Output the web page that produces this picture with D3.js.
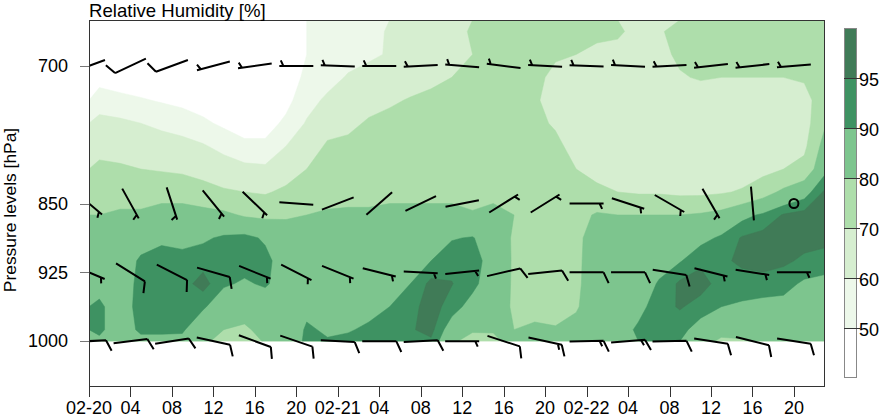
<!DOCTYPE html>
<html><head><meta charset="utf-8">
<script src="https://cdn.jsdelivr.net/npm/d3@7"></script>
<style>body{margin:0;background:#fff} svg{display:block} text{font-family:"Liberation Sans",Arial,Helvetica,sans-serif;fill:#000}</style>
</head><body><svg id="c" width="880" height="418"></svg>
<script>
// ---------- data ----------
const gridHours = [0,2,4,6,8,10,12,14,16,18,20,22,24,26,28,30,32,34,36,38,40,42,44,46,48,50,52,54,56,58,60,62,64,66,68,70,72];
const pressureLevels = [650,675,700,725,750,775,800,825,850,875,900,925,950,975,1000];
const rh650  = [42,42,42,42,42,42,42,42,42,47,50,53,55,57,61,63,64,67,71,72,72,72,72,71,71,71,68,69,73,74,74,74,74,75,75,76,77];
const rh675  = [42,42,42,42,42,42,42,42,42,46,50,53,56,58,61,64,66,68,70,72,73,73,71,70,69,68,66,67,72,73,73,73,73,74,74,76,77];
const rh700  = [46,44,43,42,42,42,42,42,42,45,52,56,61,64,66,67,68,70,71,74,74,72,68,67,65,65,64,64,69,71,70,70,70,70,71,75,77];
const rh725  = [55,53,51,49,47,45,44,43,43,47,56,62,64,67,69,70.5,72,73,73,75,75,71,67,65,63,62,62,62,64,64,65,65,65,65,67,75,77];
const rh750  = [63,62,60,58,56,52,48,46,46,52,61,67,68,71,72,73,74,75,75,76,76,72,69,65,63,62,62,62,62,62,63,63,63,63,66,79,79];
const rh775  = [67,67,65,64,63,61,57,52,52,60,66,71,72,74,75,75,76,76,76,77,76,73,72,67,64,63,63,62,61,61,62,62,63,64,68,84,84];
const rh800  = [72,71,70,69,68,66,65,63,62,65,70,74,75,76,77,77,77,77,77,78,77,74,74,70,67,66,65,64,63,63,64,65,67,70,73,88,89];
const rh825  = [77,77,77,78,77,74,71,70,69,72,75,77,78,78,79,79,79,79,78,79,78,75,75,74,72,70,69,69,68,68,69,71,76,82,87,96,96.5];
const rh850  = [80,81,81,82,83,83,82,79,78,79,80,81,81,81,81,81,81,81,80.5,81,80,76,75,77,81,80,80,80,80,81,83,88,91,95.5,97,97,97];
const rh875  = [84,85,87,89,88,89,91,92,89,84,84,84,84,84,84,84,85,89.5,90.5,85,79,75,74,78,84,84,84,85,86,88,91,95.5,97,97,97,96.5,96.5];
const rh900  = [86,86,91,92,92,93,93,93,92,86,85,85,85,85,86,86,90,93.5,93.5,86,79,75,74,78,85,85,86,88,89.5,94,94,96,97,96,94,93,93];
const rh925  = [88,86,92,92,93,97,91,89,91,86,86,85,86,86,88,90,96.5,95.2,92,85,79,75,74,78,86,86,87,90.5,96,97,93,93,93,92,89,88,88];
const rh950  = [91,87,92,92,92,91,85,83,85,85,88,87,88,88,90,93.5,97,93,87,84,79,76,75,79,86,87,88,93,95.5,93,90,89,88,88,87,87,87];
const rh975  = [91,87,91,91,91,84,80,79,82,84,91,89,89.5,91,93,94.5,96.5,86,82,82,80,82,81,83,86,87,91,93,92,87,82,82,84,86,86,86,86];
const rh1000 = [87,86,86,86,85,79,74,75,79,85,92,92,93,93,93,92,92,77,66,68,81,84,84,85,86,86,89,89,88,79,76,77,79,84,85,85,85];

const rhThresholds = [50,60,70,80,90,95];
const rhColors = ["#EDF8EA","#D6EED0","#AEDEAB","#7DC58E","#3E9262","#407B57"];
const colorbarLabels = ["50","60","70","80","90","95"];

const barbHours = [0,4,8,12,16,20,24,28,32,36,40,44,48,52,56,60,64,68];
const windLevels = [700,850,925,1000];
const dir700  = [250,245,250,255,262,270,272,270,267,275,277,273,272,273,267,264,264,265];
const spd700  = [10,10,10,5,5,5,5,5,5,5,5,5,5,5,5,5,5,5];
const dir850  = [130,151,162,141,134,94,69,49,64,79,58,58,90,108,120,150,175,0];
const spd850  = [5,5,5,5,5,2,2,2,2,2,5,5,5,5,5,5,2,0];
const dir925  = [113,122,117,106,112,117,112,104,93,84,77,84,90,90,99,104,99,90];
const spd925  = [5,10,10,10,5,5,5,5,5,5,10,10,10,10,10,5,5,5];
const dir1000 = [87,83,81,102,110,109,93,90,87,90,108,102,89,85,89,99,104,99];
const spd1000 = [10,10,10,10,10,10,10,10,10,5,10,15,15,15,10,10,10,10];

const xTickHours = [0,4,8,12,16,20,24,28,32,36,40,44,48,52,56,60,64,68];
const xTickLabels = ["02-20","04","08","12","16","20","02-21","04","08","12","16","20","02-22","04","08","12","16","20"];
const yTickValues = [700,850,925,1000];

// ---------- layout ----------
const svg = d3.select("#c");
const L = 89, R = 825, T = 20, B = 387;
const x = d3.scaleLinear().domain([0,71]).range([L,R]);
const y = d3.scaleLinear().domain([650,1050]).range([T,B]);
const FS = 18;

const defs = svg.append("defs");
defs.append("clipPath").attr("id","clipData").append("rect")
  .attr("x",L).attr("y",T).attr("width",R-L).attr("height",y(1000)-T);
defs.append("clipPath").attr("id","clipPlot").append("rect")
  .attr("x",L).attr("y",T).attr("width",R-L).attr("height",B-T);

// ---------- contours ----------
const rows = [rh650,rh675,rh700,rh725,rh750,rh775,rh800,rh825,rh850,rh875,rh900,rh925,rh950,rh975,rh1000];
const nx = gridHours.length, ny = pressureLevels.length;
const values = [];
rows.forEach(r => r.forEach(v => values.push(v)));
const dt = gridHours[1]-gridHours[0], dp = pressureLevels[1]-pressureLevels[0];
const proj = d3.geoTransform({point(px,py){
  this.stream.point(x(gridHours[0]+px*dt), y(pressureLevels[0]+py*dp));
}});
const path = d3.geoPath(proj);
const cont = d3.contours().size([nx,ny]).thresholds(rhThresholds)(values);
const cg = svg.append("g").attr("clip-path","url(#clipData)");
cont.forEach((c,i) => {
  cg.append("path").attr("d",path(c)).attr("fill",rhColors[i]).attr("stroke",rhColors[i]).attr("stroke-width",0.5);
});

// ---------- wind barbs ----------
const bg = svg.append("g").attr("clip-path","url(#clipPlot)");
function barb(cx, cy, dir, spd){
  if (spd === 0){
    bg.append("circle").attr("cx",cx).attr("cy",cy).attr("r",4.5)
      .attr("fill","none").attr("stroke","#000").attr("stroke-width",2);
    return;
  }
  const r = dir*Math.PI/180;
  const dx = Math.sin(r), dy = -Math.cos(r);
  const hl = 17;
  const x0 = cx-dx*hl, y0 = cy-dy*hl, x1 = cx+dx*hl, y1 = cy+dy*hl;
  let d = `M${x0},${y0}L${x1},${y1}`;
  const a = 65*Math.PI/180;
  const fx = dx*Math.cos(a)-dy*Math.sin(a), fy = dx*Math.sin(a)+dy*Math.cos(a);
  const s = Math.round(spd/5)*5;
  const full = Math.floor(s/10), half = (s%10)>=5 ? 1 : 0;
  let k = 0; const sp = 4;
  for (let i=0;i<full;i++){
    const bx = x1-dx*sp*k, by = y1-dy*sp*k;
    d += `M${bx},${by}l${fx*12},${fy*12}`; k++;
  }
  if (half){
    if (k===0) k = 1;
    const bx = x1-dx*sp*k, by = y1-dy*sp*k;
    d += `M${bx},${by}l${fx*6},${fy*6}`;
  }
  bg.append("path").attr("d",d).attr("fill","none").attr("stroke","#000")
    .attr("stroke-width",2).attr("stroke-linecap","butt").attr("stroke-linejoin","miter");
}
const windDirs = [dir700,dir850,dir925,dir1000];
const windSpds = [spd700,spd850,spd925,spd1000];
windLevels.forEach((p,li) => {
  barbHours.forEach((h,i) => barb(x(h), y(p), windDirs[li][i], windSpds[li][i]));
});

// ---------- frame & axes ----------
svg.append("rect").attr("x",L+0.5).attr("y",T+0.5).attr("width",R-L-1).attr("height",B-T-1)
  .attr("fill","none").attr("stroke","#333").attr("stroke-width",1);

const xa = svg.append("g");
xTickHours.forEach((h,i) => {
  const xx = Math.round(x(h))+0.5;
  xa.append("line").attr("x1",xx).attr("x2",xx).attr("y1",B).attr("y2",B+10).attr("stroke","#333");
  xa.append("text").attr("x",x(h)).attr("y",414).attr("text-anchor","middle").attr("font-size",FS).text(xTickLabels[i]);
});
const ya = svg.append("g");
yTickValues.forEach(p => {
  const yy = Math.round(y(p))+0.5;
  ya.append("line").attr("x1",L-9).attr("x2",L).attr("y1",yy).attr("y2",yy).attr("stroke","#777");
  ya.append("text").attr("x",L-21).attr("y",y(p)).attr("dy","0.35em").attr("text-anchor","end").attr("font-size",FS).text(p);
});
svg.append("text").attr("transform",`translate(16,210) rotate(-90)`)
  .attr("text-anchor","middle").attr("font-size",17.4).text("Pressure levels [hPa]");
svg.append("text").attr("x",L).attr("y",17).attr("font-size",18.6).text("Relative Humidity [%]");

// ---------- colorbar ----------
const cbX = 844, cbW = 13, cbT = 28, cbB = 378;
const cbColors = ["#ffffff"].concat(rhColors);
const segH = (cbB-cbT)/cbColors.length;
const cb = svg.append("g");
cbColors.forEach((c,i) => {
  cb.append("rect").attr("x",cbX).attr("y",cbB-(i+1)*segH).attr("width",cbW).attr("height",segH).attr("fill",c);
});
cb.append("rect").attr("x",cbX+0.5).attr("y",cbT+0.5).attr("width",cbW-1).attr("height",cbB-cbT-1)
  .attr("fill","none").attr("stroke","#888");
colorbarLabels.forEach((lab,i) => {
  const yy = Math.round(cbB-(i+1)*segH)+0.5;
  cb.append("line").attr("x1",cbX).attr("x2",cbX+cbW+3).attr("y1",yy).attr("y2",yy).attr("stroke","#333");
  cb.append("text").attr("x",cbX+cbW+2).attr("y",yy+1).attr("dy","0.35em").attr("font-size",FS).text(lab);
});
</script></body></html>
